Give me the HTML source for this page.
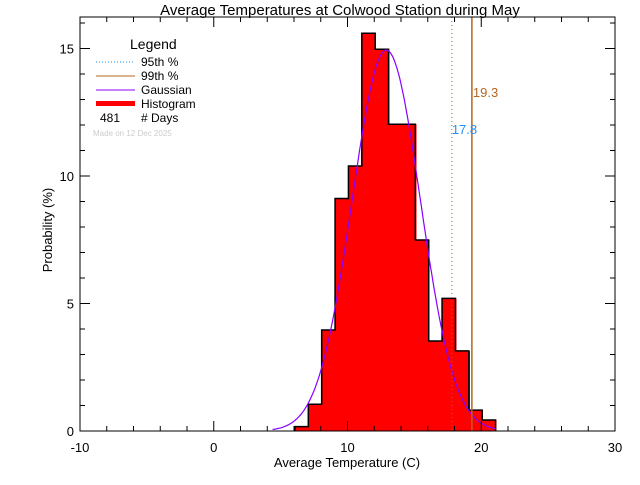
<!DOCTYPE html>
<html><head><meta charset="utf-8"><style>
body{margin:0;background:#fff;}
svg text{font-family:"Liberation Sans",sans-serif;}
</style></head><body>
<svg id="c" width="640" height="480" xmlns="http://www.w3.org/2000/svg">
<text x="340" y="15" font-size="15" text-anchor="middle">Average Temperatures at Colwood Station during May</text>
<text x="347" y="467" font-size="13" text-anchor="middle">Average Temperature (C)</text>
<text transform="translate(52,230) rotate(-90)" font-size="13" text-anchor="middle">Probability (%)</text>
<g id="plot"></g>
<g>
<text x="130" y="49" font-size="14">Legend</text>
<line x1="96" y1="62" x2="135" y2="62" stroke="#1e90ff" stroke-dasharray="1,2"/>
<text x="141" y="66" font-size="12">95th %</text>
<line x1="96" y1="76" x2="135" y2="76" stroke="#b5651d"/>
<text x="141" y="80" font-size="12">99th %</text>
<line x1="96" y1="90" x2="135" y2="90" stroke="#8a00ff"/>
<text x="141" y="94" font-size="12">Gaussian</text>
<rect x="96" y="101" width="39" height="5" fill="#f00"/>
<text x="141" y="108" font-size="12">Histogram</text>
<text x="100" y="122" font-size="12">481</text>
<text x="141" y="122" font-size="12"># Days</text>
<text x="93" y="136" font-size="8" fill="#ccc">Made on 12 Dec 2025</text>
</g>
</svg>
<script>
const binStarts=[6,7,8,9,10,11,12,13,14,15,16,17,18,19,20];
const binValues=[0.17,1.05,3.96,9.12,10.39,15.6,14.97,12.03,12.03,7.49,3.53,5.2,3.14,0.82,0.43];
const xTicks=[-10,0,10,20,30];
const yTicks=[0,5,10,15];
const gaussMean=12.9, gaussSigma=2.55, gaussPeak=14.94;
const p95=17.8, p99=19.3;
const X0=80,X1=615,Y0=431,Y1=17;
const sx=v=>X0+(v+10)*(X1-X0)/40;
const sy=v=>Y0-v*25.5;
const NS="http://www.w3.org/2000/svg";
const g=document.getElementById('plot');
function mk(t,a){const e=document.createElementNS(NS,t);for(const k in a)e.setAttribute(k,a[k]);g.appendChild(e);return e;}
binStarts.forEach((b,i)=>{
 const r=mk('rect',{x:sx(b+0.07),y:sy(binValues[i]),width:sx(b+1)-sx(b)+1,height:Y0-sy(binValues[i]),fill:'#f00','shape-rendering':'crispEdges'});
 
 
});
let d='';
binStarts.forEach((b,i)=>{const xa=sx(b+0.07),xb=sx(b+1.07),y=sy(binValues[i]);
 const prev=i?sy(binValues[i-1]):Y0;
 d+=(i?'L':'M')+xa+','+prev+'L'+xa+','+y+'L'+xb+','+y;});
d+='L'+sx(binStarts[binStarts.length-1]+1.07)+','+Y0;
const o=mk('path',{d:d,fill:'none',stroke:'#000','stroke-width':1.5});


let gd='';
for(let v=4.4;v<=21.2;v+=0.1){const y=gaussPeak*Math.exp(-((v-gaussMean)**2)/(2*gaussSigma**2));gd+=(gd?'L':'M')+sx(v).toFixed(1)+','+sy(y).toFixed(1);}
const gp=mk('path',{d:gd,fill:'none',stroke:'#8a00ff','stroke-width':1.2});


const l95=mk('line',{x1:sx(p95),x2:sx(p95),y1:Y1,y2:Y0,stroke:'#b5651d','stroke-dasharray':'1,3'});


const l99=mk('line',{x1:sx(p99),x2:sx(p99),y1:Y1,y2:Y0,stroke:'#b5651d','stroke-width':1.5});


const t95=mk('text',{x:sx(p95),y:134,'font-size':13,fill:'#1e90ff'});t95.textContent=p95.toFixed(1);


const t99=mk('text',{x:sx(p99)+1,y:97,'font-size':13,fill:'#b5651d'});t99.textContent=p99.toFixed(1);


const fr=mk('rect',{x:X0,y:Y1,width:X1-X0,height:Y0-Y1,fill:'none',stroke:'#000'});


for(let v=-10;v<=30;v+=2){const maj=v%10===0,L=maj?10:5;
 mk('line',{x1:sx(v),x2:sx(v),y1:Y0,y2:Y0-L,stroke:'#000'});
 mk('line',{x1:sx(v),x2:sx(v),y1:Y1,y2:Y1+L,stroke:'#000'});}
for(let v=0;v<=16;v++){const maj=v%5===0,L=maj?10:5;
 mk('line',{x1:X0,x2:X0+L,y1:sy(v),y2:sy(v),stroke:'#000'});
 mk('line',{x1:X1,x2:X1-L,y1:sy(v),y2:sy(v),stroke:'#000'});}
xTicks.forEach(v=>{const t=mk('text',{x:sx(v),y:452,'font-size':13,'text-anchor':'middle'});t.textContent=v;
 
 });
yTicks.forEach(v=>{const t=mk('text',{x:74,y:sy(v)+5,'font-size':13,'text-anchor':'end'});t.textContent=v;
 
 });
</script>
</body></html>
